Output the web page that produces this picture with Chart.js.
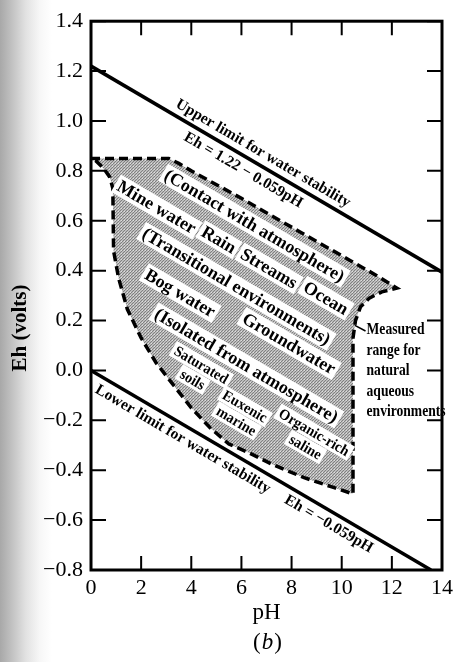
<!DOCTYPE html>
<html>
<head>
<meta charset="utf-8">
<title>Eh–pH range of natural waters</title>
<script src="https://cdn.jsdelivr.net/npm/chart.js@4/dist/chart.umd.min.js"></script>
<style>
  html, body { margin: 0; padding: 0; }
  body {
    width: 458px; height: 662px; overflow: hidden;
    background: linear-gradient(to right, #a8a8a8 0px, #c2c2c2 12px, #e2e2e2 26px, #f7f7f7 40px, #ffffff 52px);
  }
  canvas { display: block; }
</style>
</head>
<body>
<canvas id="chart" width="458" height="662"></canvas>
<script>
// Axis tick values
const pHTicks = [0, 2, 4, 6, 8, 10, 12, 14];
const EhTicks = [-0.8, -0.6, -0.4, -0.2, 0.0, 0.2, 0.4, 0.6, 0.8, 1.0, 1.2, 1.4];

// Stability limits of water (end points inside the pH 0–14 frame)
const upperLimitPH = [0, 14];
const upperLimitEh = [1.22, 0.394];
const lowerLimitPH = [0, 13.56];
const lowerLimitEh = [0, -0.8];

// Outline of the measured range for natural aqueous environments (clockwise from pH 0)
const rangePH = [0, 3.1, 3.5, 4.0, 6.0, 8.25, 10.35, 11.4, 12.2,
                 11.6, 11.1, 10.75, 10.55, 10.45, 10.45,
                 9.7, 8.5, 7.2, 6.3, 5.5, 4.75, 4.0, 3.3, 2.6, 2.0, 1.45, 1.1, 0.9,
                 0.87, 0.75, 0.5, 0.2, 0];
const rangeEh = [0.85, 0.85, 0.83, 0.80, 0.69, 0.56, 0.44, 0.38, 0.33,
                 0.315, 0.29, 0.255, 0.20, 0.13, -0.495,
                 -0.47, -0.43, -0.375, -0.33, -0.295, -0.23, -0.15, -0.06, 0.03, 0.13, 0.245, 0.37, 0.48,
                 0.73, 0.775, 0.81, 0.84, 0.85];

// Leader from the range outline to its caption
const leaderPH = [10.45, 10.95];
const leaderEh = [0.185, 0.158];

// Environment names written inside the range (anchor pH, Eh)
const environmentLabels = [
  { lines: ['(Contact with atmosphere)'], pH: 6.52, Eh: 0.58 },
  { lines: ['Mine water'], pH: 2.62, Eh: 0.655 },
  { lines: ['Rain'], pH: 5.1, Eh: 0.524 },
  { lines: ['Streams'], pH: 7.1, Eh: 0.409 },
  { lines: ['Ocean'], pH: 9.37, Eh: 0.29 },
  { lines: ['(Transitional environments)'], pH: 5.8, Eh: 0.337 },
  { lines: ['Bog water'], pH: 3.56, Eh: 0.31 },
  { lines: ['Groundwater'], pH: 7.9, Eh: 0.108 },
  { lines: ['(Isolated from atmosphere)'], pH: 6.2, Eh: 0.02 }
];
const minorLabels = [
  { lines: ['Saturated', 'soils'], pH: 4.23, Eh: -0.007 },
  { lines: ['Euxenic', 'marine'], pH: 5.97, Eh: -0.173 },
  { lines: ['Organic-rich', 'saline'], pH: 8.73, Eh: -0.277 }
];
const limitLabels = [
  { lines: ['Upper limit for water stability'], pH: 6.88, Eh: 0.873 },
  { lines: ['Eh = 1.22 \u2212 0.059pH'], pH: 6.09, Eh: 0.806 },
  { lines: ['Lower limit for water stability'], pH: 3.68, Eh: -0.273 },
  { lines: ['Eh = \u22120.059pH'], pH: 9.5, Eh: -0.613 }
];
const rangeCaption = ['Measured', 'range for', 'natural', 'aqueous', 'environments'];

const SERIF = '"Liberation Serif", "DejaVu Serif", serif';

const toPoints = (xs, ys) => xs.map((v, i) => ({ x: v, y: ys[i] }));

// Fine dot screen used for the shaded range
function screenPattern() {
  const tile = document.createElement('canvas');
  tile.width = 3; tile.height = 3;
  const t = tile.getContext('2d');
  t.fillStyle = '#bdbdbd'; t.fillRect(0, 0, 3, 3);
  t.fillStyle = '#808080'; t.fillRect(0, 0, 1, 1); t.fillRect(2, 1, 1, 1); t.fillRect(1, 2, 1, 1);
  t.fillStyle = '#dedede'; t.fillRect(1, 1, 1, 1);
  return t.createPattern(tile, 'repeat');
}

function formatEh(v) {
  if (Math.abs(v) < 1e-9) v = 0;
  return v.toFixed(1).replace('-', '\u2212');
}

// Rotated multi-line label, optionally on white boxes
function drawRotated(ctx, lbl, x, y, ang, font, size, gap, box, squeeze) {
  ctx.save();
  ctx.translate(x.getPixelForValue(lbl.pH), y.getPixelForValue(lbl.Eh));
  ctx.rotate(ang);
  ctx.font = font;
  ctx.textAlign = 'center';
  ctx.textBaseline = 'middle';
  const n = lbl.lines.length;
  lbl.lines.forEach((t, i) => {
    const yy = (i - (n - 1) / 2) * gap;
    const w = ctx.measureText(t).width * squeeze;
    if (box) {
      ctx.fillStyle = '#ffffff';
      ctx.fillRect(-w / 2 - 3, yy - size * 0.55, w + 6, size * 1.1);
    }
    ctx.fillStyle = '#000000';
    ctx.save();
    ctx.scale(squeeze, 1);
    ctx.fillText(t, 0, yy + 1);
    ctx.restore();
  });
  ctx.restore();
}

const decorations = {
  id: 'decorations',
  afterDatasetsDraw(chart) {
    const { ctx, scales: { x, y } } = chart;
    const ang = Math.atan2(
      y.getPixelForValue(upperLimitEh[1]) - y.getPixelForValue(upperLimitEh[0]),
      x.getPixelForValue(upperLimitPH[1]) - x.getPixelForValue(upperLimitPH[0]));

    environmentLabels.forEach(l => drawRotated(ctx, l, x, y, ang, 'bold 18px ' + SERIF, 18, 20, true, 1));
    minorLabels.forEach(l => drawRotated(ctx, l, x, y, ang, 'bold 15px ' + SERIF, 15, 17, true, 0.95));
    limitLabels.forEach(l => drawRotated(ctx, l, x, y, ang, 'bold 15.5px ' + SERIF, 16, 18, false, 1));

    // caption of the shaded range
    ctx.save();
    ctx.font = 'bold 17px ' + SERIF;
    ctx.fillStyle = '#000';
    ctx.textAlign = 'left';
    ctx.textBaseline = 'middle';
    const cx = x.getPixelForValue(leaderPH[1]) + 1;
    const cy0 = y.getPixelForValue(leaderEh[1]) - 1;
    rangeCaption.forEach((t, i) => {
      ctx.save();
      ctx.translate(cx, cy0 + i * 20.5);
      ctx.scale(0.8, 1);
      ctx.fillText(t, 0, 0);
      ctx.restore();
    });
    ctx.restore();
  },
  afterDraw(chart) {
    const { ctx, chartArea: a, scales: { x, y } } = chart;
    ctx.save();
    // frame
    ctx.strokeStyle = '#000';
    ctx.lineWidth = 3;
    ctx.strokeRect(a.left, a.top, a.right - a.left, a.bottom - a.top);
    // inward ticks on all four sides
    ctx.lineWidth = 2;
    ctx.beginPath();
    pHTicks.forEach(v => {
      const px = x.getPixelForValue(v);
      ctx.moveTo(px, a.bottom); ctx.lineTo(px, a.bottom - 14);
      ctx.moveTo(px, a.top); ctx.lineTo(px, a.top + 14);
    });
    EhTicks.forEach(v => {
      const py = y.getPixelForValue(v);
      ctx.moveTo(a.left, py); ctx.lineTo(a.left + 15, py);
      ctx.moveTo(a.right, py); ctx.lineTo(a.right - 15, py);
    });
    ctx.stroke();

    // axis titles
    ctx.fillStyle = '#000';
    ctx.textAlign = 'center';
    ctx.textBaseline = 'middle';
    ctx.save();
    ctx.translate(21, y.getPixelForValue(0.17));
    ctx.rotate(-Math.PI / 2);
    ctx.font = 'bold 21px ' + SERIF;
    ctx.fillText('Eh (volts)', 0, 0);
    ctx.restore();

    const midX = (a.left + a.right) / 2;
    ctx.font = '23px ' + SERIF;
    ctx.fillText('pH', midX, a.bottom + 43);

    // panel letter (b)
    const py = a.bottom + 73;
    ctx.font = '23px ' + SERIF;
    const wp = ctx.measureText('(').width;
    const wq = ctx.measureText(')').width;
    ctx.font = 'italic 23px ' + SERIF;
    const wb = ctx.measureText('b').width;
    let sx = midX - (wp + wb + wq) / 2;
    ctx.textAlign = 'left';
    ctx.font = '23px ' + SERIF;
    ctx.fillText('(', sx, py);
    ctx.font = 'italic 23px ' + SERIF;
    ctx.fillText('b', sx + wp + 1, py);
    ctx.font = '23px ' + SERIF;
    ctx.fillText(')', sx + wp + wb + 2, py);
    ctx.restore();
  }
};

new Chart(document.getElementById('chart'), {
  type: 'line',
  data: {
    datasets: [
      {
        label: 'Measured range for natural aqueous environments',
        data: toPoints(rangePH, rangeEh),
        borderColor: '#000',
        borderWidth: 3.5,
        borderDash: [9, 5],
        backgroundColor: screenPattern(),
        fill: 'shape',
        pointRadius: 0,
        tension: 0
      },
      {
        label: 'Upper limit for water stability',
        data: toPoints(upperLimitPH, upperLimitEh),
        borderColor: '#000',
        borderWidth: 3.5,
        pointRadius: 0,
        fill: false
      },
      {
        label: 'Lower limit for water stability',
        data: toPoints(lowerLimitPH, lowerLimitEh),
        borderColor: '#000',
        borderWidth: 3.5,
        pointRadius: 0,
        fill: false
      },
      {
        label: 'leader',
        data: toPoints(leaderPH, leaderEh),
        borderColor: '#000',
        borderWidth: 1.5,
        pointRadius: 0,
        fill: false
      }
    ]
  },
  options: {
    responsive: false,
    devicePixelRatio: 1,
    animation: false,
    events: [],
    layout: { padding: { left: 0, right: 13, top: 15, bottom: 0 } },
    plugins: { legend: { display: false }, tooltip: { enabled: false } },
    scales: {
      x: {
        type: 'linear',
        min: pHTicks[0],
        max: pHTicks[pHTicks.length - 1],
        afterFit: s => { s.height = 92; },
        afterBuildTicks: s => { s.ticks = pHTicks.map(v => ({ value: v })); },
        grid: { display: false, drawTicks: false },
        border: { display: false },
        ticks: {
          padding: 5,
          color: '#000',
          font: { family: SERIF, size: 22 },
          callback: v => String(v)
        }
      },
      y: {
        type: 'linear',
        min: EhTicks[0],
        max: EhTicks[EhTicks.length - 1],
        afterFit: s => { s.width = 91; },
        afterBuildTicks: s => { s.ticks = EhTicks.map(v => ({ value: v })); },
        grid: { display: false, drawTicks: false },
        border: { display: false },
        ticks: {
          padding: 8,
          color: '#000',
          font: { family: SERIF, size: 22 },
          callback: v => formatEh(v)
        }
      }
    }
  },
  plugins: [decorations]
});
</script>
</body>
</html>
